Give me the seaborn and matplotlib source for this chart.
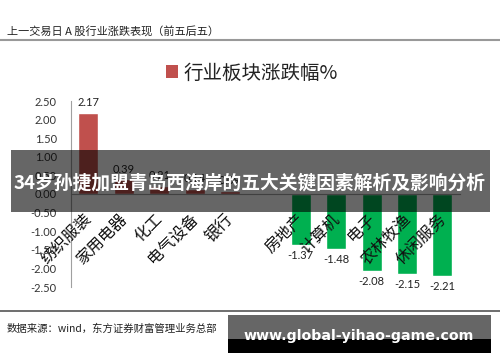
import matplotlib
matplotlib.use('Agg')
import matplotlib.pyplot as plt
import matplotlib.transforms as mtrans
import seaborn as sns
import pandas as pd
import numpy as np
from matplotlib.patches import Rectangle, Patch
from matplotlib.lines import Line2D

# ---- data ----
categories = ['纺织服装', '家用电器', '化工', '电气设备', '银行', ' ',
              '房地产', '计算机', '电子', '农林牧渔', '休闲服务']
values = [2.17, 0.39, 0.21, 0.14, 0.09, np.nan,
          -1.37, -1.48, -2.08, -2.15, -2.21]
yticks = [2.5, 2.0, 1.5, 1.0, 0.5, 0.0, -0.5, -1.0, -1.5, -2.0, -2.5]
ytick_labels = ['2.50', '2.00', '1.50', '1.00', '0.50', '0.00',
                '-0.50', '-1.00', '-1.50', '-2.00', '-2.50']
header = '上一交易日 A 股行业涨跌表现（前五后五）'
legend_label = '行业板块涨跌幅%'
source = '数据来源：wind，东方证券财富管理业务总部'
banner = '34岁孙捷加盟青岛西海岸的五大关键因素解析及影响分析'
watermark = 'www.global-yihao-game.com'

RED = '#C0504D'
GREEN = '#00B050'

sns.set_theme(style='white')
plt.rcParams['font.family'] = ['Noto Sans CJK SC', 'DejaVu Sans']

df = pd.DataFrame({'行业': categories, '涨跌幅': values})
df['sign'] = np.where(df['涨跌幅'] < 0, 'neg', 'pos')

W, H = 500, 362
fig = plt.figure(figsize=(W / 100, H / 100), dpi=100)
fig.patch.set_facecolor('white')

ax = fig.add_axes([70.6 / W, 1 - 287 / H, (460.2 - 70.6) / W, 186 / H])
sns.barplot(data=df, x='行业', y='涨跌幅', hue='sign',
            palette={'pos': RED, 'neg': GREEN}, order=categories,
            dodge=False, width=0.565, legend=False, ax=ax,
            saturation=1, errorbar=None)

ax.set_axisbelow(False)
ax.set_ylim(-2.5, 2.5)
ax.set_xlim(-0.5, len(categories) - 0.5)
ax.set_yticks(yticks)
ax.set_yticklabels(ytick_labels, fontsize=8, color='#333333', family='Lato')
ax.set_xlabel('')
ax.set_ylabel('')
for s in ['top', 'right']:
    ax.spines[s].set_visible(False)
ax.spines['left'].set_color('#A0A0A0')
ax.spines['left'].set_linewidth(0.8)
ax.spines['bottom'].set_position(('data', 0))
ax.spines['bottom'].set_color('#A0A0A0')
ax.spines['bottom'].set_linewidth(0.8)
ax.tick_params(axis='y', length=0, pad=10)
ax.tick_params(axis='x', length=0, pad=12)
shift = mtrans.ScaledTranslation(-5 / 100, 0, fig.dpi_scale_trans)
for lab in ax.get_xticklabels():
    lab.set_rotation(45)
    lab.set_ha('right')
    lab.set_va('top')
    lab.set_rotation_mode('anchor')
    lab.set_fontsize(11.5)
    lab.set_color('#111111')
    lab.set_transform(lab.get_transform() + shift)

for cont in ax.containers:
    labs = []
    for b in cont:
        h = b.get_height()
        labs.append('' if (h is None or np.isnan(h)) else f'{h:.2f}')
    ax.bar_label(cont, labels=labs, padding=3.5, fontsize=8,
                 family='Lato', color='#222222')

# legend
fig.legend(handles=[Patch(facecolor=RED, edgecolor='none')], labels=[legend_label],
           loc='center', bbox_to_anchor=(252 / W, 1 - 73 / H), frameon=False,
           fontsize=14, handlelength=0.62, handleheight=0.62, handletextpad=0.3,
           labelcolor='#222222')

# header
fig.text(7 / W, 1 - 32 / H, header, fontsize=8, va='center', ha='left', color='#222222')
fig.add_artist(Line2D([0, 1], [1 - 40 / H] * 2, transform=fig.transFigure,
                      color='#999999', lw=1.5))

# footer
fig.add_artist(Line2D([0, 1], [1 - 311 / H] * 2, transform=fig.transFigure,
                      color='#555555', lw=1.2))
fig.text(7 / W, 1 - 329 / H, source, fontsize=7.5, va='center', ha='left', color='#222222')

# banner overlay
fig.add_artist(Rectangle((11 / W, 1 - 212 / H), 479 / W, 62 / H,
                         transform=fig.transFigure, facecolor='black',
                         edgecolor='none', alpha=0.6, zorder=5))
fig.text(250 / W, 1 - 183 / H, banner, fontsize=13.5, fontweight='bold',
         color='white', ha='center', va='center', zorder=6)

# watermark
fig.add_artist(Rectangle((228 / W, 1 - 339 / H), 263 / W, 24 / H,
                         transform=fig.transFigure, facecolor='#666666',
                         edgecolor='none', zorder=5))
fig.add_artist(Rectangle((228 / W, 1 - 353 / H), 263 / W, 14 / H,
                         transform=fig.transFigure, facecolor='black',
                         edgecolor='none', zorder=5))
fig.text(359 / W, 1 - 336 / H, watermark, fontsize=10.2, fontweight='bold',
         color='white', ha='center', va='center', zorder=6, family='DejaVu Sans')

fig.savefig('out.png', dpi=100)
